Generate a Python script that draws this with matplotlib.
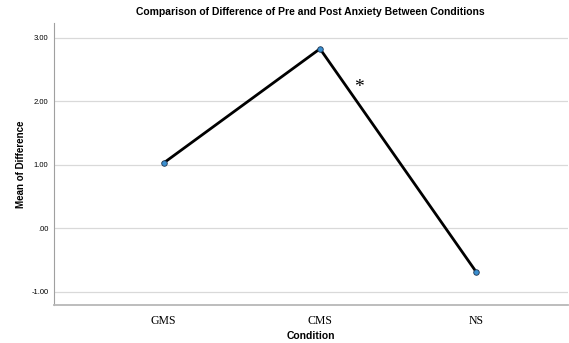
import matplotlib.pyplot as plt

conditions = ['GMS', 'CMS', 'NS']
mean_diff = [1.03, 2.83, -0.69]
y_ticks = [-1.0, 0.0, 1.0, 2.0, 3.0]
y_tick_labels = ['-1.00', '.00', '1.00', '2.00', '3.00']

fig = plt.figure(figsize=(5.69, 3.43), dpi=100)
ax = fig.add_axes([54 / 569, 1 - 305 / 343, 514 / 569, 282 / 343])

x = list(range(len(conditions)))
ax.plot(x, mean_diff, color='black', linewidth=2, zorder=3)
ax.plot(x, mean_diff, 'o', markersize=4, markerfacecolor='#3a8fd0',
        markeredgecolor='#1f3550', markeredgewidth=0.6, zorder=4)

ax.set_xlim(-0.70, 2.585)
ax.set_ylim(-1.205, 3.236)
ax.set_xticks(x)
ax.set_xticklabels(conditions, fontfamily='Liberation Serif', fontsize=8.5)
ax.set_yticks(y_ticks)
ax.set_yticklabels(y_tick_labels, fontfamily='Liberation Sans', fontsize=5.5)
ax.tick_params(axis='both', length=0, pad=4)
ax.tick_params(axis='x', pad=7)

ax.grid(axis='y', color='#d9d9d9', linewidth=0.9)
ax.set_axisbelow(True)
for side in ['top', 'right']:
    ax.spines[side].set_visible(False)
ax.spines['left'].set_color('#a0a0a0')
ax.spines['left'].set_linewidth(0.8)
ax.spines['bottom'].set_color('#b8b8b8')
ax.spines['bottom'].set_linewidth(1.3)

# significance marker
ax.text(1.25, 2.22, '*', fontsize=14, fontfamily='Liberation Serif',
        ha='center', va='center')

ax.set_xlabel('Condition', fontfamily='Liberation Sans', fontweight='bold',
              fontsize=7.5, labelpad=3)
ax.set_ylabel('Mean of Difference', fontfamily='Liberation Sans', fontweight='bold',
              fontsize=7, labelpad=4)
fig.text(310 / 569, 1 - 12 / 343, 'Comparison of Difference of Pre and Post Anxiety Between Conditions',
         fontfamily='Liberation Sans', fontweight='bold', fontsize=7.5,
         ha='center', va='center')

fig.savefig('out.png', dpi=100)
